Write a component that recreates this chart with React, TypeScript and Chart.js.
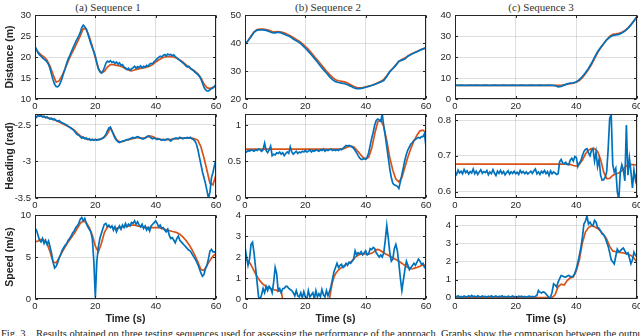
import React, { useEffect, useRef } from "react";
import { Chart, registerables } from "chart.js";

Chart.register(...registerables);

// ---------------- text ----------------
const columnTitles = ["(a) Sequence 1", "(b) Sequence 2", "(c) Sequence 3"];
const rowTitles = ["Distance (m)", "Heading (rad)", "Speed (m/s)"];
const xTitle = "Time (s)";
const caption =
  "Fig. 3.\u00a0\u00a0\u00a0Results obtained on three testing sequences used for assessing the performance of the approach. Graphs show the comparison between the output";

// ---------------- axes ----------------
const timeTicks = [0, 20, 40, 60];
const timeRange = [0, 60];

const distSeq1Range = [10, 30];
const distSeq1Ticks = [10, 15, 20, 25, 30];
const distSeq2Range = [20, 50];
const distSeq2Ticks = [20, 30, 40, 50];
const distSeq3Range = [0, 40];
const distSeq3Ticks = [0, 10, 20, 30, 40];

const headSeq1Range = [-3.5, -2.35];
const headSeq1Ticks = [-3.5, -3, -2.5];
const headSeq2Range = [0, 1.15];
const headSeq2Ticks = [0, 0.5, 1];
const headSeq3Range = [0.582, 0.817];
const headSeq3Ticks = [0.6, 0.7, 0.8];

const speedSeq1Range = [0, 10];
const speedSeq1Ticks = [0, 5, 10];
const speedSeq2Range = [0, 4];
const speedSeq2Ticks = [0, 1, 2, 3, 4];
const speedSeq3Range = [-0.08, 4.6];
const speedSeq3Ticks = [0, 1, 2, 3, 4];

// ---------------- data (blue = measured, orange = estimated) ----------------
// sampling periods in seconds
const fineStep = 0.5;
const coarseStep = 1;

const distSeq1Blue = [
  22.5, 21.8, 21.0, 20.5, 20.2, 19.8, 19.5, 19.2, 18.8, 18.2, 17.2,
  15.8, 14.5, 13.5, 13.0, 12.9, 13.2, 14.0, 15.0, 16.2, 17.3,
  18.5, 19.5, 20.3, 21.2, 22.0, 22.8, 23.6, 24.3, 25.0, 25.8,
  27.0, 27.6, 27.2, 26.6, 25.6, 24.4, 23.2, 22.2, 21.3, 20.2,
  18.6, 17.2, 16.5, 16.2, 16.6, 17.5, 18.5, 19.0, 18.8, 19.1,
  18.7, 18.9, 18.5, 18.8, 18.3, 18.6, 18.0, 18.2, 17.6, 17.4,
  17.0, 17.3, 16.8, 17.2, 17.4, 17.8, 17.3, 17.7, 17.5, 17.9,
  17.4, 17.8, 17.6, 18.0, 17.8, 18.3, 18.5, 18.4, 18.9, 19.2,
  19.6, 19.9, 20.2, 20.0, 20.4, 20.6, 20.3, 20.7, 20.5, 20.6,
  20.3, 20.5, 20.1, 19.8, 19.5, 19.2, 18.9, 18.6, 18.3, 17.9,
  17.6, 17.8, 17.3, 17.0, 16.8, 16.4, 16.1, 15.8, 15.4, 14.8,
  13.8, 12.8, 12.2, 11.9, 11.9, 12.2, 12.5, 12.6, 13.0, 13.5,
];
const distSeq1Orange = [
  22.0, 21.2, 20.5, 20.0, 19.2, 17.8, 15.8, 14.0, 14.3, 15.6, 17.2,
  19.0, 20.6, 22.0, 23.5, 25.0, 26.8, 26.6, 24.8, 22.5, 19.8,
  17.3, 16.2, 16.6, 17.6, 18.2, 18.2, 18.0, 17.9, 17.6, 17.2,
  16.9, 16.7, 16.9, 17.1, 17.3, 17.4, 17.6, 17.8, 18.2, 18.8,
  19.3, 19.7, 20.0, 20.1, 20.1, 20.0, 19.7, 19.3, 18.8, 18.2,
  17.6, 17.1, 16.6, 16.0, 15.0, 13.6, 12.7, 12.5, 12.8, 13.1,
];

const distSeq2Blue = [
  39.8, 40.8, 42.2, 43.8, 44.6, 44.7, 44.7, 44.5, 44.1, 43.7, 43.6,
  43.9, 43.6, 43.1, 42.7, 42.2, 41.4, 40.8, 40.2, 39.2, 38.2,
  37.0, 35.8, 34.5, 33.2, 31.8, 30.5, 29.3, 28.0, 26.9, 26.2,
  25.9, 25.7, 25.5, 25.1, 24.6, 24.0, 23.7, 23.7, 23.9, 24.2,
  24.5, 24.8, 25.2, 25.6, 26.1, 26.6, 28.0, 29.8, 30.8, 32.0,
  33.5, 33.9, 34.3, 35.3, 35.9, 36.4, 36.9, 37.4, 37.9, 38.3,
];
const distSeq2Orange = [
  39.5, 40.8, 42.5, 44.0, 44.8, 45.0, 45.0, 44.8, 44.5, 44.1, 44.0,
  44.1, 43.9, 43.6, 43.1, 42.6, 42.0, 41.3, 40.6, 39.8, 38.8,
  37.7, 36.5, 35.2, 33.9, 32.6, 31.3, 30.0, 28.8, 27.7, 26.9,
  26.5, 26.3, 26.1, 25.7, 25.1, 24.5, 24.1, 24.0, 24.1, 24.3,
  24.6, 24.9, 25.3, 25.8, 26.3, 27.0, 28.3, 29.8, 31.0, 32.2,
  33.4, 34.1, 34.6, 35.4, 36.0, 36.5, 37.0, 37.5, 37.9, 38.2,
];

const distSeq3Blue = [
  6.6, 6.5, 6.6, 6.5, 6.5, 6.6, 6.5, 6.6, 6.5, 6.5,
  6.6, 6.5, 6.5, 6.6, 6.5, 6.5, 6.6, 6.5, 6.5, 6.6,
  6.5, 6.5, 6.6, 6.5, 6.5, 6.6, 6.5, 6.5, 6.6, 6.5,
  6.5, 6.6, 6.5, 6.4,
  5.8, 6.0, 6.6, 7.2, 7.6, 7.7, 8.2, 9.2, 10.7, 12.5, 14.5, 17.0, 19.8,
  22.5, 24.5, 26.3, 28.2, 29.4, 30.2, 30.5, 30.8, 31.4, 32.3, 33.6, 35.3, 37.3, 39.3,
];
const distSeq3Orange = [
  6.5, 6.5, 6.5, 6.5, 6.5, 6.5, 6.5, 6.5, 6.5, 6.5,
  6.5, 6.5, 6.5, 6.5, 6.5, 6.5, 6.5, 6.5, 6.5, 6.5,
  6.5, 6.5, 6.5, 6.5, 6.5, 6.5, 6.5, 6.5, 6.5, 6.5,
  6.5, 6.5, 6.5, 6.5, 6.5,
  6.5, 6.8, 7.1, 7.3, 7.5, 8.0, 8.8, 10.2, 12.0, 14.0, 16.4, 19.2, 22.0,
  24.3, 26.3, 28.2, 29.8, 30.8, 31.0, 31.3, 31.8, 32.6, 33.8, 35.4, 37.2, 39.0,
];

const headSeq1Blue = [
  -2.42, -2.39, -2.37, -2.38, -2.37, -2.39, -2.38, -2.40, -2.39, -2.41, -2.42,
  -2.41, -2.43, -2.42, -2.44, -2.45, -2.44, -2.46, -2.47, -2.48, -2.49,
  -2.50, -2.52, -2.53, -2.55, -2.56, -2.58, -2.61, -2.63, -2.64, -2.66,
  -2.68, -2.67, -2.69, -2.68, -2.70, -2.69, -2.71, -2.70, -2.71, -2.70,
  -2.71, -2.70, -2.70, -2.69, -2.68, -2.66, -2.63, -2.58, -2.54, -2.53,
  -2.58, -2.63, -2.68, -2.71, -2.73, -2.74, -2.73, -2.72, -2.72, -2.71,
  -2.70, -2.70, -2.69, -2.68, -2.67, -2.68, -2.67, -2.66, -2.67, -2.68,
  -2.69, -2.69, -2.68, -2.66, -2.65, -2.66, -2.68, -2.69, -2.68, -2.69,
  -2.70, -2.69, -2.70, -2.71, -2.70, -2.71, -2.70, -2.69, -2.70, -2.72,
  -2.70, -2.69, -2.68, -2.68, -2.69, -2.67, -2.68, -2.69, -2.68, -2.68,
  -2.67, -2.68, -2.67, -2.69, -2.70, -2.72, -2.76, -2.84, -2.94, -3.04,
  -3.14, -3.22, -3.30, -3.40, -3.50, -3.42, -3.22, -3.15, -3.05, -2.98,
];
const headSeq1Orange = [
  -2.40, -2.38, -2.38, -2.39, -2.40, -2.41, -2.42, -2.44, -2.46, -2.48, -2.50,
  -2.52, -2.54, -2.57, -2.61, -2.65, -2.67, -2.69, -2.70, -2.70, -2.70,
  -2.70, -2.69, -2.67, -2.62, -2.54, -2.62, -2.70, -2.73, -2.73, -2.71,
  -2.70, -2.69, -2.68, -2.67, -2.68, -2.68, -2.67, -2.65, -2.66, -2.68,
  -2.69, -2.70, -2.70, -2.70, -2.70, -2.69, -2.69, -2.68, -2.68, -2.68,
  -2.68, -2.68, -2.69, -2.71, -2.80, -2.95, -3.12, -3.30, -3.32, -3.18,
];

const headSeq2Blue = [
  0.64, 0.63, 0.65, 0.64, 0.66, 0.65, 0.64, 0.66, 0.65, 0.67, 0.66,
  0.64, 0.66, 0.75, 0.65, 0.62, 0.66, 0.71, 0.58, 0.60, 0.59,
  0.62, 0.61, 0.63, 0.60, 0.62, 0.58, 0.61, 0.63, 0.61, 0.70,
  0.63, 0.60, 0.62, 0.64, 0.61, 0.63, 0.62, 0.64, 0.63, 0.65,
  0.63, 0.64, 0.66, 0.63, 0.65, 0.64, 0.66, 0.65, 0.64, 0.66,
  0.65, 0.67, 0.64, 0.66, 0.65, 0.66, 0.67, 0.65, 0.66, 0.65,
  0.66, 0.65, 0.67, 0.66, 0.68, 0.70, 0.72, 0.71, 0.72, 0.71,
  0.70, 0.68, 0.65, 0.62, 0.58, 0.55, 0.53, 0.53, 0.54, 0.53,
  0.56, 0.62, 0.72, 0.82, 0.90, 1.00, 1.06, 1.08, 1.07, 1.05,
  1.15, 0.98, 0.85, 0.70, 0.55, 0.40, 0.28, 0.20, 0.18, 0.17,
  0.16, 0.13, 0.22, 0.32, 0.42, 0.52, 0.60, 0.66, 0.70, 0.74,
  0.76, 0.79, 0.80, 0.82, 0.83, 0.82, 0.84, 0.84, 0.88, 0.70,
];
const headSeq2Orange = [
  0.67, 0.67, 0.67, 0.67, 0.67, 0.67, 0.67, 0.67, 0.67, 0.67, 0.67,
  0.67, 0.67, 0.67, 0.67, 0.67, 0.67, 0.67, 0.67, 0.67, 0.67,
  0.67, 0.67, 0.67, 0.67, 0.67, 0.67, 0.67, 0.67, 0.67, 0.67,
  0.67, 0.67,
  0.68, 0.70, 0.71, 0.70, 0.66, 0.61, 0.56, 0.53, 0.56, 0.68, 0.88, 1.04, 1.07, 0.98,
  0.78, 0.55, 0.38, 0.26, 0.22, 0.28, 0.42, 0.56, 0.68, 0.78, 0.86, 0.92, 0.93, 0.89,
];

const headSeq3Blue = [
  0.655, 0.648, 0.660, 0.652, 0.657, 0.650, 0.662, 0.653, 0.658, 0.649, 0.656,
  0.652, 0.663, 0.650, 0.657, 0.648, 0.655, 0.661, 0.651, 0.656, 0.653,
  0.659, 0.647, 0.655, 0.650, 0.661, 0.652, 0.645, 0.657, 0.651, 0.659,
  0.650, 0.656, 0.647, 0.653, 0.658, 0.649, 0.655, 0.651, 0.657, 0.650,
  0.654, 0.648, 0.659, 0.652, 0.656, 0.650, 0.655, 0.649, 0.653, 0.657,
  0.651, 0.658, 0.663, 0.650, 0.655, 0.648, 0.657, 0.652, 0.659, 0.650,
  0.656, 0.645, 0.658, 0.650, 0.655, 0.652, 0.648, 0.650, 0.684, 0.690,
  0.680, 0.678, 0.682, 0.676, 0.675, 0.688, 0.693, 0.685, 0.698, 0.695,
  0.670, 0.680, 0.686, 0.700, 0.712, 0.718, 0.720, 0.708, 0.700, 0.715,
  0.720, 0.685, 0.710, 0.670, 0.690, 0.646, 0.632, 0.633, 0.640, 0.655,
  0.720, 0.805, 0.815, 0.675, 0.655, 0.665, 0.600, 0.577, 0.655, 0.675,
  0.660, 0.630, 0.786, 0.646, 0.693, 0.655, 0.610, 0.660, 0.632, 0.655,
];
const headSeq3Orange = [
  0.677, 0.677, 0.677, 0.677, 0.677, 0.677, 0.677, 0.677, 0.677, 0.677,
  0.677, 0.677, 0.677, 0.677, 0.677, 0.677, 0.677, 0.677, 0.677, 0.677,
  0.677, 0.677, 0.677, 0.677, 0.677, 0.677, 0.677, 0.677, 0.677, 0.677,
  0.677, 0.677, 0.677, 0.677, 0.677, 0.677, 0.677, 0.677,
  0.676, 0.673, 0.671, 0.676, 0.688, 0.705, 0.716, 0.720, 0.720, 0.712, 0.690, 0.655,
  0.636, 0.637, 0.645, 0.650, 0.652, 0.658, 0.668, 0.675, 0.676, 0.675, 0.674,
];

const speedSeq1Blue = [
  8.4, 8.2, 7.6, 7.0, 6.8, 7.2, 6.6, 7.0, 6.5, 6.9, 6.2,
  5.4, 4.4, 3.7, 3.9, 4.3, 4.9, 5.3, 5.8, 6.1, 6.4,
  6.6, 7.0, 7.2, 7.5, 7.9, 8.1, 8.5, 8.7, 9.0, 9.5,
  9.7, 9.3, 9.6, 9.0, 8.6, 8.3, 8.0, 7.2, 4.5, 0.2,
  4.5, 6.2, 7.2, 7.8, 8.4, 8.9, 9.0, 8.6, 8.8, 8.5,
  8.7, 8.2, 8.6, 8.0, 8.4, 8.7, 8.3, 8.8, 8.5, 9.0,
  8.6, 8.9, 8.7, 9.1, 9.0, 9.3, 8.9, 9.2, 8.8, 8.6,
  8.9, 8.4, 8.7, 8.2, 8.5, 8.1, 8.7, 8.9, 9.1, 9.3,
  9.0, 8.6, 8.8, 8.4, 8.5, 8.2, 8.0, 8.3, 7.6, 7.2,
  7.3, 7.0, 6.7, 7.2, 7.5, 7.0, 6.8, 6.6, 6.4, 6.2,
  6.0, 5.8, 5.7, 5.4, 5.1, 4.8, 4.5, 4.1, 3.6, 3.1,
  2.7, 2.9, 3.6, 4.0, 4.8, 5.7, 5.9, 5.6, 5.6, 5.5,
];
const speedSeq1Orange = [
  6.8, 6.9, 7.1, 7.0, 6.6, 5.6, 4.4, 4.3, 4.9, 5.6, 6.2,
  6.8, 7.3, 7.8, 8.4, 9.0, 9.3, 9.1, 8.5, 7.6, 6.3,
  5.6, 6.6, 7.9, 8.6, 8.6, 8.5, 8.4, 8.5, 8.6, 8.6,
  8.7, 8.8, 8.8, 8.7, 8.6, 8.6, 8.5, 8.5, 8.5, 8.5,
  8.5, 8.4, 8.3, 8.2, 8.1, 8.0, 7.9, 7.7, 7.4, 7.0,
  6.5, 5.9, 5.2, 4.4, 3.5, 3.4, 4.0, 4.6, 5.1, 5.4,
];

const speedSeq2Blue = [
  2.5, 2.0, 1.6, 1.9, 2.6, 2.7, 2.2, 1.5, 0.8, 0.1, 0.0,
  0.2, 0.5, 0.3, 0.6, 0.4, 0.6, 0.5, 0.3, 0.8, 1.5,
  1.2, 0.4, 0.5, 0.3, 0.5, 0.5, 0.6, 0.6, 0.5, 0.45,
  0.4, 0.3, 0.15, 0.4, 0.15, 0.1, 0.3, 0.05, 0.35, 0.1,
  0.0, 0.4, 0.1, 0.2, 0.3, 0.0, 0.4, 0.1, 0.25, 0.1,
  0.45, 0.2, 0.1, 0.4, 0.15, 0.35, 0.6, 0.95, 1.3, 1.5,
  1.7, 1.5, 1.6, 1.65, 1.5, 1.55, 1.7, 1.6, 1.75, 1.7,
  1.8, 1.9, 2.3, 2.1, 2.2, 2.15, 2.25, 2.1, 2.2, 2.3,
  2.1, 2.15, 2.4, 2.35, 2.45, 2.4, 2.2, 2.1, 2.0, 2.1,
  2.0, 2.2, 2.8, 3.5, 2.9, 2.2, 1.8, 1.9, 2.4, 2.6,
  2.3, 1.7, 1.0, 0.4, 0.9, 1.4, 1.8, 1.6, 1.4, 1.5,
  1.6, 1.7, 1.6, 1.75, 1.9, 1.8, 1.65, 1.7, 1.5, 1.45,
];
const speedSeq2Orange = [
  1.92, 1.88, 1.82, 1.74, 1.62, 1.48, 1.34, 1.2, 1.08, 0.96, 0.86,
  0.78, 0.7, 0.65, 0.6, 0.56, 0.53, 0.5, 0.48, 0.45, 0.43,
  0.41, 0.39, 0.37, 0.35, 0, 0, 0, 0, 0, 0,
  0, 0, 0, 0, 0, 0, 0, 0, 0, 0,
  0, 0, 0, 0, 0, 0, 0, 0, 0, 0,
  0, 0, 0, 0, 0, 0, 0.45, 0.8, 1.05, 1.2,
  1.3, 1.38, 1.45, 1.5, 1.55, 1.6, 1.64, 1.68, 1.72, 1.76,
  1.82, 1.9, 1.98, 2.04, 2.08, 2.12, 2.14, 2.15, 2.15, 2.15,
  2.15, 2.15, 2.16, 2.18, 2.22, 2.28, 2.34, 2.36, 2.34, 2.3,
  2.25, 2.2, 2.16, 2.12, 2.08, 2.04, 2.0, 1.96, 1.92, 1.88,
  1.84, 1.8, 1.75, 1.7, 1.65, 1.6, 1.55, 1.5, 1.46, 1.43,
  1.44, 1.46, 1.48, 1.5, 1.53, 1.56, 1.6, 1.62, 1.62, 1.6,
];

const speedSeq3Blue = [
  0.08, 0.04, 0.1, 0.03, 0.06, 0.02, 0.09, 0.05, 0.03, 0.1, 0.04,
  0.12, 0.05, 0.08, 0.02, 0.1, 0.06, 0.03, 0.09, 0.05, 0.07,
  0.02, 0.08, 0.04, 0.1, 0.03, 0.06, 0.09, 0.02, 0.07, 0.05,
  0.1, 0.03, 0.06, 0.02, 0.08, 0.05, 0.04, 0.09, 0.03, 0.06,
  0.02, 0.07, 0.04, 0.08, 0.03, 0.06, 0.02, 0.05, 0.08, 0.04,
  0.06, 0.03, 0.07, 0.12, 0.4, 0.3, 0.26, 0.32, 0.3, 0.2,
  0.1, 0.0, 0.02, 0.3, 0.77, 0.7, 0.59, 0.87, 1.05, 1.23,
  1.2, 1.15, 1.14, 1.2, 1.23, 1.18, 1.14, 1.2, 1.35, 1.6,
  1.95, 2.35, 2.8, 3.35, 4.1, 4.25, 4.55, 4.1, 4.2, 4.05,
  4.0, 4.3, 4.2, 3.9, 3.85, 3.7, 3.55, 3.5, 3.35, 3.1,
  2.85, 2.5, 2.1, 2.0, 1.88, 2.3, 2.7, 2.55, 2.6, 2.7,
  2.76, 2.6, 2.43, 2.5, 2.2, 1.88, 2.1, 2.53, 2.35, 2.25,
];
const speedSeq3Orange = [
  0, 0, 0, 0, 0, 0, 0, 0, 0, 0, 0,
  0, 0, 0, 0, 0, 0, 0, 0, 0, 0,
  0, 0, 0, 0, 0, 0, 0, 0, 0, 0,
  0, 0,
  0.15, 0.6, 0.75, 0.7, 0.95, 1.1, 1.15, 1.5, 2.1, 3.05, 3.65, 3.9, 4.0, 3.95,
  3.85, 3.7, 3.5, 3.25, 2.85, 2.6, 2.55, 2.52, 2.5, 2.47, 2.42, 2.35, 2.2, 1.97,
];

// ---------------- panel table ----------------
type PanelDef = {
  blue: number[];
  blueStep: number;
  orange: number[];
  orangeStep: number;
  range: number[];
  ticks: number[];
};

const PANELS: PanelDef[][] = [
  [
    { blue: distSeq1Blue, blueStep: fineStep, orange: distSeq1Orange, orangeStep: coarseStep, range: distSeq1Range, ticks: distSeq1Ticks },
    { blue: distSeq2Blue, blueStep: coarseStep, orange: distSeq2Orange, orangeStep: coarseStep, range: distSeq2Range, ticks: distSeq2Ticks },
    { blue: distSeq3Blue, blueStep: coarseStep, orange: distSeq3Orange, orangeStep: coarseStep, range: distSeq3Range, ticks: distSeq3Ticks },
  ],
  [
    { blue: headSeq1Blue, blueStep: fineStep, orange: headSeq1Orange, orangeStep: coarseStep, range: headSeq1Range, ticks: headSeq1Ticks },
    { blue: headSeq2Blue, blueStep: fineStep, orange: headSeq2Orange, orangeStep: coarseStep, range: headSeq2Range, ticks: headSeq2Ticks },
    { blue: headSeq3Blue, blueStep: fineStep, orange: headSeq3Orange, orangeStep: coarseStep, range: headSeq3Range, ticks: headSeq3Ticks },
  ],
  [
    { blue: speedSeq1Blue, blueStep: fineStep, orange: speedSeq1Orange, orangeStep: coarseStep, range: speedSeq1Range, ticks: speedSeq1Ticks },
    { blue: speedSeq2Blue, blueStep: fineStep, orange: speedSeq2Orange, orangeStep: fineStep, range: speedSeq2Range, ticks: speedSeq2Ticks },
    { blue: speedSeq3Blue, blueStep: fineStep, orange: speedSeq3Orange, orangeStep: coarseStep, range: speedSeq3Range, ticks: speedSeq3Ticks },
  ],
];

// ---------------- layout & style ----------------
const COL_LEFT = [35, 245, 455];
const COL_RIGHT = [216, 426, 637];
const ROW_TOP = [15, 114, 215];
const ROW_BOTTOM = [99, 198, 299];
const Y_AXIS_W = 35;
const PAD_TOP = 8;
const PAD_RIGHT = 8;
const X_AXIS_H = [14, 14, 28];
const TITLE_CENTER = [108, 328, 541];

const BLUE = "#0072BD";
const ORANGE = "#D95319";
const TEXT = "#262626";
const GRID = "rgba(38,38,38,0.15)";
const SANS = '"Liberation Sans", Arial, Helvetica, sans-serif';
const SERIF = '"Liberation Serif", "Times New Roman", Times, serif';

const toPoints = (vals: number[], step: number) =>
  vals.map((v, i) => ({ x: i * step, y: v }));

const boxPlugin = {
  id: "matlabBox",
  afterDraw(chart: any) {
    const { ctx, chartArea: a, scales } = chart;
    ctx.save();
    ctx.strokeStyle = TEXT;
    ctx.lineWidth = 1;
    const l = Math.round(a.left) + 0.5;
    const r = Math.round(a.right) - 0.5;
    const t = Math.round(a.top) + 0.5;
    const b = Math.round(a.bottom) - 0.5;
    ctx.strokeRect(l, t, r - l, b - t);
    const tl = 2.5;
    ctx.beginPath();
    for (const tk of scales.x.ticks) {
      const px = Math.round(scales.x.getPixelForValue(tk.value)) + 0.5;
      ctx.moveTo(px, b);
      ctx.lineTo(px, b - tl);
      ctx.moveTo(px, t);
      ctx.lineTo(px, t + tl);
    }
    for (const tk of scales.y.ticks) {
      const py = Math.round(scales.y.getPixelForValue(tk.value)) + 0.5;
      ctx.moveTo(l, py);
      ctx.lineTo(l + tl, py);
      ctx.moveTo(r, py);
      ctx.lineTo(r - tl, py);
    }
    ctx.stroke();
    ctx.restore();
  },
};

function Panel({ r, c }: { r: number; c: number }) {
  const ref = useRef<HTMLCanvasElement>(null);
  const plotW = COL_RIGHT[c] - COL_LEFT[c];
  const plotH = ROW_BOTTOM[r] - ROW_TOP[r];
  const width = Y_AXIS_W + plotW + PAD_RIGHT;
  const height = PAD_TOP + plotH + X_AXIS_H[r];

  useEffect(() => {
    const p = PANELS[r][c];
    const tickFont = { family: SANS, size: 9.5 };
    const titleFont = { family: SANS, size: 10.5, weight: "bold" as const };
    const chart = new Chart(ref.current as HTMLCanvasElement, {
      type: "line",
      data: {
        datasets: [
          {
            data: toPoints(p.blue, p.blueStep),
            borderColor: BLUE,
            borderWidth: 1.7,
            pointRadius: 0,
            tension: 0,
            fill: false,
          },
          {
            data: toPoints(p.orange, p.orangeStep),
            borderColor: ORANGE,
            borderWidth: 1.7,
            pointRadius: 0,
            tension: 0,
            fill: false,
          },
        ],
      },
      options: {
        animation: false,
        responsive: false,
        events: [],
        layout: { padding: { left: 0, top: PAD_TOP, right: PAD_RIGHT, bottom: 0 } },
        plugins: {
          legend: { display: false },
          tooltip: { enabled: false },
          title: { display: false },
        },
        scales: {
          x: {
            type: "linear",
            min: timeRange[0],
            max: timeRange[1],
            afterBuildTicks: (s: any) => {
              s.ticks = timeTicks.map((v) => ({ value: v }));
            },
            afterFit: (s: any) => {
              s.height = X_AXIS_H[r];
              s.paddingLeft = 0;
              s.paddingRight = 0;
            },
            grid: { color: GRID, lineWidth: 1, drawTicks: false },
            border: { display: false },
            ticks: {
              padding: 2,
              font: tickFont,
              color: TEXT,
              maxRotation: 0,
              autoSkip: false,
              callback: (v: any) => String(v),
            },
            title: {
              display: r === 2,
              text: xTitle,
              font: titleFont,
              color: TEXT,
              padding: { top: 0, bottom: 2 },
            },
          },
          y: {
            type: "linear",
            min: p.range[0],
            max: p.range[1],
            afterBuildTicks: (s: any) => {
              s.ticks = p.ticks.map((v) => ({ value: v }));
            },
            afterFit: (s: any) => {
              s.width = Y_AXIS_W;
              s.paddingTop = 0;
              s.paddingBottom = 0;
            },
            grid: { color: GRID, lineWidth: 1, drawTicks: false },
            border: { display: false },
            ticks: {
              padding: 4,
              font: tickFont,
              color: TEXT,
              autoSkip: false,
              callback: (v: any) => String(v),
            },
            title: {
              display: c === 0,
              text: rowTitles[r],
              font: titleFont,
              color: TEXT,
              padding: { top: 4, bottom: 0 },
            },
          },
        },
      },
      plugins: [boxPlugin],
    } as any);
    return () => chart.destroy();
  }, [r, c]);

  return (
    <canvas
      ref={ref}
      width={width}
      height={height}
      style={{
        position: "absolute",
        left: COL_LEFT[c] - Y_AXIS_W,
        top: ROW_TOP[r] - PAD_TOP,
        width,
        height,
      }}
    />
  );
}

export default function App() {
  const cells: React.ReactNode[] = [];
  for (let r = 0; r < 3; r++) {
    for (let c = 0; c < 3; c++) {
      cells.push(<Panel key={`${r}-${c}`} r={r} c={c} />);
    }
  }
  return (
    <div
      style={{
        position: "absolute",
        left: 0,
        top: 0,
        width: 640,
        height: 336,
        overflow: "hidden",
        background: "#ffffff",
      }}
    >
      {columnTitles.map((t, i) => (
        <div
          key={t}
          style={{
            position: "absolute",
            left: TITLE_CENTER[i] - 70,
            width: 140,
            top: 2,
            textAlign: "center",
            fontFamily: SERIF,
            fontSize: 11,
            fontWeight: "normal",
            lineHeight: "11px",
            color: "#333",
            whiteSpace: "nowrap",
          }}
        >
          {t}
        </div>
      ))}
      {cells}
      <div
        style={{
          position: "absolute",
          left: 1,
          top: 328,
          fontFamily: SERIF,
          fontSize: 10.5,
          lineHeight: "12px",
          color: "#222",
          whiteSpace: "nowrap",
        }}
      >
        {caption}
      </div>
    </div>
  );
}
